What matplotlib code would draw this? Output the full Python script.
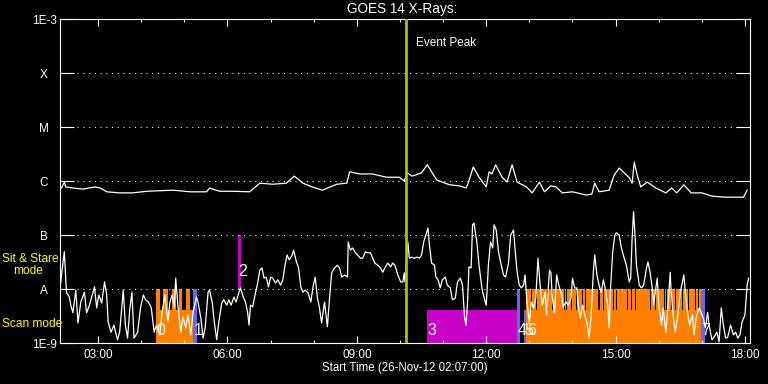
import numpy as np
import matplotlib
matplotlib.use("Agg")
import matplotlib.pyplot as plt
from matplotlib.ticker import FixedLocator, NullLocator, FuncFormatter

# ---------------- data ----------------
START_HOUR = 2 + 7 / 60.0          # 02:07:00
SPAN_HOURS = 16.0

# GOES-14 long channel (1-8 A): minutes after start, log10 flux (W/m^2)
long_min = [2, 6, 8, 18, 32, 49, 56, 65, 83, 101, 121, 157, 181, 204, 208, 222, 240, 264, 278, 296,
            315, 326, 338, 351, 365, 385, 399, 403, 417, 435, 454, 472, 479, 483, 490, 503, 511, 524,
            542, 556, 565, 568, 575, 583, 593, 597, 601, 606, 615, 622, 629, 636, 649, 657, 667, 674,
            683, 690, 699, 713, 732, 740, 744, 750, 764, 771, 778, 792, 796, 799, 803, 808, 817, 829,
            843, 851, 858, 868, 878, 893, 907, 926, 951, 956]
long_log = [-6.13, -6.02, -6.11, -6.13, -6.15, -6.11, -6.13, -6.20, -6.22, -6.22, -6.19, -6.17, -6.20,
            -6.20, -6.13, -6.19, -6.19, -6.20, -6.04, -6.06, -6.04, -5.91, -6.04, -6.11, -6.17, -6.06,
            -6.04, -5.83, -5.87, -5.87, -5.93, -5.93, -6.00, -5.85, -5.91, -5.85, -5.70, -5.98, -6.07,
            -6.09, -6.13, -6.04, -5.74, -5.93, -6.11, -5.83, -5.87, -5.70, -5.93, -6.02, -5.70, -6.02,
            -6.11, -6.22, -6.02, -6.20, -6.09, -6.11, -6.22, -6.20, -6.26, -6.24, -6.04, -6.20, -6.17,
            -5.89, -5.76, -5.94, -6.04, -5.65, -5.89, -6.11, -6.02, -6.13, -6.22, -6.13, -6.22, -6.07,
            -6.22, -6.22, -6.28, -6.30, -6.30, -6.17]

# GOES-14 short channel (0.5-4 A): minutes after start, log10 flux (W/m^2)
short_min = [0, 6, 9, 13, 15, 18, 22, 25, 29, 34, 37, 41, 44, 48, 51, 54, 58, 62, 65, 67, 71, 75, 80,
             83, 88, 91, 94, 97, 100, 103, 108, 112, 116, 119, 123, 127, 131, 134, 139, 142, 146, 150,
             153, 156, 159, 161, 164, 168, 171, 175, 178, 182, 185, 190, 192, 196, 199, 202, 206, 208,
             212, 214, 218, 221, 225, 228, 232, 235, 238, 242, 245, 249, 251, 255, 258, 261, 263, 265,
             268, 272, 275, 278, 281, 284, 287, 290, 293, 296, 300, 303, 307, 310, 313, 316, 319, 323,
             325, 329, 332, 335, 338, 341, 345, 349, 352, 355, 358, 361, 364, 368, 372, 375, 378, 382,
             386, 389, 392, 396, 400, 401, 404, 407, 411, 414, 418, 421, 425, 428, 432, 435, 438, 442,
             446, 449, 452, 456, 460, 463, 466, 470, 474, 477, 479, 480, 484, 486, 489, 493, 497, 500,
             503, 506, 509, 512, 514, 517, 521, 523, 526, 529, 532, 536, 539, 543, 546, 550, 553, 557,
             560, 563, 565, 567, 569, 572, 574, 576, 580, 583, 587, 589, 593, 594, 596, 599, 602, 604,
             607, 610, 613, 617, 620, 624, 627, 631, 633, 636, 639, 642, 645, 647, 650, 653, 656, 659,
             662, 665, 668, 671, 675, 677, 681, 683, 685, 688, 691, 694, 698, 700, 704, 707, 711, 713,
             716, 719, 721, 724, 727, 730, 733, 736, 739, 742, 744, 747, 750, 753, 756, 759, 762, 764,
             766, 769, 772, 774, 778, 781, 785, 788, 792, 794, 796, 798, 800, 802, 806, 809, 812, 816,
             818, 821, 824, 826, 829, 831, 833, 837, 839, 843, 846, 849, 850, 853, 856, 860, 863, 866,
             868, 870, 873, 876, 880, 882, 885, 889, 892, 895, 898, 901, 903, 907, 910, 914, 917, 920,
             923, 926, 929, 933, 937, 940, 943, 946, 949, 953, 956, 958]
short_log = [-7.98, -7.31, -8.06, -8.15, -8.30, -8.44, -8.02, -8.63, -8.24, -8.06, -8.44, -8.30, -8.15,
             -7.96, -8.35, -8.11, -8.26, -7.87, -8.11, -8.61, -8.80, -8.67, -8.94, -8.80, -8.02, -8.67,
             -8.91, -8.39, -8.06, -8.91, -8.80, -8.35, -8.11, -8.20, -8.24, -8.35, -8.80, -8.67, -8.85,
             -8.43, -8.11, -8.61, -8.24, -8.11, -8.33, -7.80, -8.30, -8.80, -8.52, -8.72, -8.48, -8.85,
             -8.43, -8.15, -8.24, -8.54, -8.91, -8.72, -8.06, -8.02, -8.26, -8.54, -8.94, -8.61, -8.26,
             -8.20, -8.30, -8.20, -8.30, -8.15, -8.24, -8.06, -7.98, -8.15, -8.24, -8.43, -8.67, -8.30,
             -8.33, -8.07, -7.89, -7.65, -7.61, -7.80, -7.78, -7.96, -7.78, -7.80, -7.89, -7.83, -7.93,
             -7.83, -7.56, -7.37, -7.46, -7.37, -7.28, -7.50, -7.61, -7.96, -8.06, -8.02, -8.07, -8.24,
             -7.96, -7.78, -8.15, -8.35, -8.63, -8.24, -8.70, -8.17, -7.70, -7.61, -7.56, -7.61, -7.78,
             -7.74, -7.78, -7.13, -7.28, -7.24, -7.33, -7.37, -7.43, -7.43, -7.31, -7.33, -7.33, -7.43,
             -7.52, -7.56, -7.61, -7.69, -7.61, -7.52, -7.59, -7.52, -7.56, -7.74, -7.87, -7.87, -7.70,
             -7.87, -7.13, -7.43, -7.41, -7.43, -7.41, -7.43, -7.37, -7.13, -7.00, -6.87, -7.19, -7.52,
             -7.56, -7.78, -7.83, -7.98, -7.83, -7.78, -7.93, -7.98, -8.20, -8.17, -7.87, -7.80, -7.93,
             -8.54, -8.67, -8.24, -7.59, -7.61, -6.81, -6.78, -7.13, -7.56, -7.98, -8.11, -8.30, -8.07,
             -7.56, -7.13, -7.24, -6.81, -6.91, -7.31, -7.50, -7.74, -7.78, -7.52, -7.00, -6.91, -7.24,
             -7.69, -7.93, -7.98, -7.93, -7.74, -8.30, -8.61, -8.24, -8.35, -8.17, -7.43, -7.93, -8.30,
             -8.06, -8.48, -7.65, -7.69, -8.17, -8.44, -7.74, -7.93, -8.11, -8.33, -8.24, -8.30, -8.17,
             -7.80, -7.98, -7.98, -8.30, -8.54, -8.30, -8.48, -8.61, -8.91, -8.48, -7.69, -7.37, -7.74,
             -7.93, -8.06, -7.83, -8.02, -8.30, -8.72, -7.98, -7.31, -7.00, -6.96, -7.00, -7.24, -7.43,
             -7.56, -7.87, -7.80, -7.06, -6.57, -7.00, -7.56, -7.93, -7.98, -7.93, -7.61, -7.50, -7.69,
             -7.98, -8.30, -7.98, -7.80, -8.30, -8.67, -8.35, -8.80, -8.30, -7.69, -7.98, -8.48, -8.80,
             -8.43, -8.06, -7.87, -7.74, -8.06, -8.43, -8.67, -8.48, -8.85, -8.54, -8.35, -8.43, -8.54,
             -8.72, -8.43, -8.67, -8.94, -8.89, -8.80, -8.98, -8.35, -8.67, -8.91, -8.89, -8.67, -8.85,
             -8.80, -8.91, -8.85, -8.61, -8.48, -7.93, -7.80]

# Observing modes (minutes after start)
mode_labels = ['0', '1', '2', '3', '4', '5', '6', '7']
mode_kind = ['scan', 'other', 'sitstare', 'sitstare', 'other', 'other', 'scan', 'other']
mode_start = [133, 185, 248, 511, 636, 646, 649, 892]
mode_end = [185, 190, 252, 636, 640, 649, 892, 897]
mode_low = [1e-9, 1e-9, 1e-8, 1e-9, 1e-9, 1e-9, 1e-9, 1e-9]
mode_high = [4e-9, 1e-8, 1e-7, 4e-9, 1e-8, 4e-9, 4e-9, 1e-8]
scan_tall_flux = 1e-8
# short (low) windows inside the scan intervals
scan_short_start = [139, 150, 161, 170, 181,
                    655.3, 662.3, 677.3, 684.3, 701.3, 704.3, 711.3, 718.3, 726.3, 730.3, 748.3,
                    750.3, 755.3, 769.3, 773.3, 789.3, 794.3, 800.3, 821.3, 827.3, 840.3, 843.3,
                    850.3, 855.3, 865.3, 873.3, 883.3, 887.3]
scan_short_end = [143, 156, 165, 175, 185,
                  656.7, 663.7, 678.7, 685.7, 702.7, 705.7, 712.7, 719.7, 727.7, 731.7, 749.7,
                  751.7, 756.7, 770.7, 774.7, 790.7, 795.7, 801.7, 822.7, 828.7, 841.7, 844.7,
                  851.7, 856.7, 866.7, 874.7, 884.7, 888.7]

event_peak_min = 481

ytick_vals = [1e-9, 1e-8, 1e-7, 1e-6, 1e-5, 1e-4, 1e-3]
ytick_text = ['1E-9', 'A', 'B', 'C', 'M', 'X', '1E-3']
xtick_hours = [3, 6, 9, 12, 15, 18]

# ---------------- styles ----------------
FONT = 'Liberation Sans'
plt.rcParams['font.family'] = [FONT, 'DejaVu Sans']
kind_color = {'scan': '#ff8000', 'sitstare': '#c800c8', 'other': '#6464ff'}

W, H = 768, 384
fig = plt.figure(figsize=(W / 100, H / 100), dpi=100, facecolor='black')
ax = fig.add_axes([60 / W, 1 - 343 / H, 690 / W, 324 / H], facecolor='black')

def to_hours(m):
    return START_HOUR + np.asarray(m, dtype=float) / 60.0

# mode bars
for lab, kind, s, e, lo, hi in zip(mode_labels, mode_kind, mode_start, mode_end, mode_low, mode_high):
    c = kind_color[kind]
    ax.bar(to_hours(s), hi - lo, bottom=lo, width=(e - s) / 60.0, align='edge',
           color=c, linewidth=0, zorder=1)
    if kind == 'scan':
        wins = sorted((a, b) for a, b in zip(scan_short_start, scan_short_end) if a >= s and b <= e + 0.01)
        cur = s
        segs = []
        for a, b in wins:
            if a > cur:
                segs.append((cur, a))
            cur = max(cur, b)
        if cur < e:
            segs.append((cur, e))
        for a, b in segs:
            ax.bar(to_hours(a), scan_tall_flux - lo, bottom=lo, width=(b - a) / 60.0,
                   align='edge', color=c, linewidth=0, zorder=1)
    ylab = lo * (1.22 if lo < 5e-9 else 1.55)
    ax.text(to_hours(s) + 0.01, ylab, lab, color='white', fontsize=11.5,
            ha='left', va='bottom', zorder=4)

# dotted level lines
for v in ytick_vals[1:-1]:
    ax.axhline(v, color='white', lw=0.75, linestyle=(0, (1, 4.5)), zorder=2)

# curves
ax.plot(to_hours(long_min), 10 ** np.asarray(long_log), color='white', lw=0.9, zorder=3)
ax.plot(to_hours(short_min), 10 ** np.asarray(short_log), color='white', lw=0.9, zorder=3)

# event peak
ev = to_hours(event_peak_min)
ax.axvline(ev, color='#a0c800', lw=2.0, zorder=3.5)
ax.annotate('Event Peak', xy=(ev, 0.926), xycoords=('data', 'axes fraction'),
            xytext=(7.5, 0), textcoords='offset points', color='white', fontsize=8.5,
            ha='left', va='center')

# axes
ax.set_yscale('log')
ax.set_ylim(1e-9, 1e-3)
ax.set_xlim(START_HOUR, START_HOUR + SPAN_HOURS)
ax.yaxis.set_major_locator(FixedLocator(ytick_vals))
ax.yaxis.set_minor_locator(NullLocator())
ax.set_yticklabels(ytick_text)
ax.xaxis.set_major_locator(FixedLocator(xtick_hours))
ax.xaxis.set_minor_locator(FixedLocator(list(range(3, 19))))
ax.xaxis.set_major_formatter(FuncFormatter(lambda v, p: '%02d:00' % int(round(v))))

for sp in ax.spines.values():
    sp.set_color('white')
    sp.set_linewidth(0.8)
ax.tick_params(axis='y', which='major', direction='in', length=10, width=0.8,
               left=True, right=True, colors='white', labelsize=8.5, pad=11.5)
for t in ax.get_yticklabels():
    t.set_ha('center')
ax.tick_params(axis='x', which='major', direction='in', length=5, width=0.8,
               top=True, bottom=True, colors='white', labelsize=8.5, pad=4.5)
ax.tick_params(axis='x', which='minor', direction='in', length=2.5, width=0.8,
               top=True, bottom=True, colors='white')

# texts
fig.text(402 / W, 1 - 9 / H, 'GOES 14 X-Rays:', color='white', fontsize=9.8, ha='center', va='center')
fig.text(405 / W, 1 - 368 / H, 'Start Time (26-Nov-12 02:07:00)', color='white', fontsize=8.3,
         ha='center', va='center')
fig.text(2 / W, 1 - 259 / H, 'Sit & Stare', color='#ffff00', fontsize=8.6, ha='left', va='center')
fig.text(13 / W, 1 - 271 / H, 'mode', color='#ffff00', fontsize=8.6, ha='left', va='center')
fig.text(2 / W, 1 - 324 / H, 'Scan mode', color='#ffff00', fontsize=8.6, ha='left', va='center')

fig.savefig('out.png', dpi=100, facecolor='black')
